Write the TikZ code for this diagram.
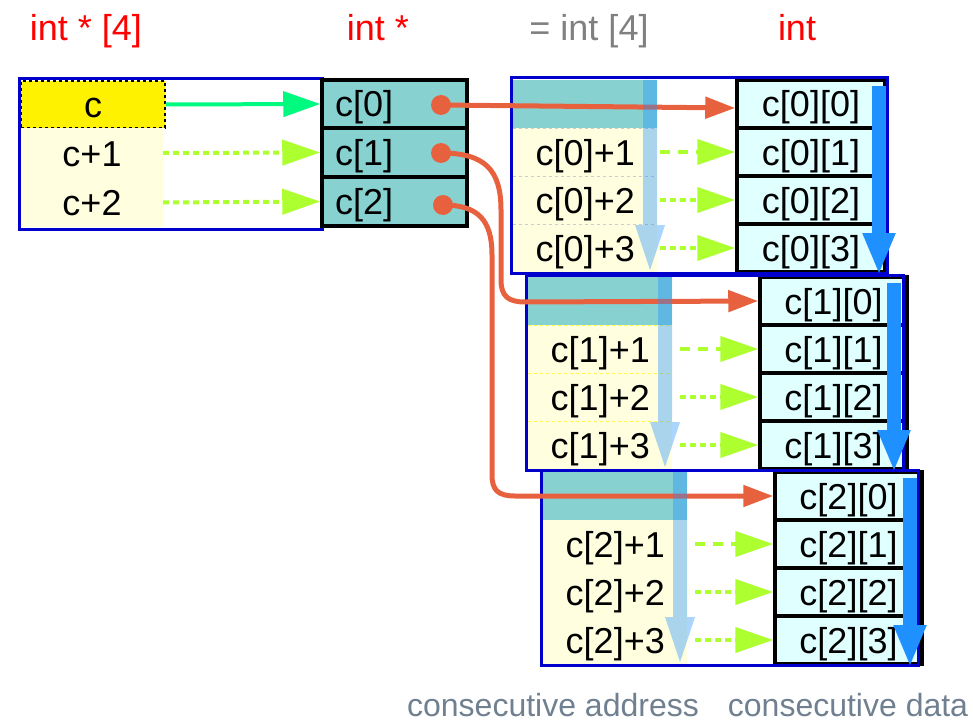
\documentclass[tikz,border=0pt]{standalone}
\usepackage{fontspec}
\setmainfont{Liberation Sans}
\usetikzlibrary{arrows.meta}
\definecolor{teal0}{RGB}{136,209,209}
\definecolor{lyel}{RGB}{255,255,224}
\definecolor{lcyan}{RGB}{224,255,255}
\definecolor{bblue}{RGB}{0,0,204}
\definecolor{orng}{RGB}{232,97,62}
\definecolor{sgreen}{RGB}{0,250,127}
\definecolor{ygreen}{RGB}{173,255,47}
\definecolor{dblue}{RGB}{30,144,255}
\definecolor{slate}{RGB}{112,128,144}
\definecolor{gtext}{RGB}{128,128,128}
\begin{document}
\begin{tikzpicture}[x=1pt,y=-1pt,
  txt/.style={font=\fontsize{36}{40}\selectfont, text height=26pt, text depth=0pt, inner sep=0pt},
  box/.style={inner sep=0pt},
  ttl/.style={font=\fontsize{36}{40}\selectfont, inner sep=0pt, anchor=base},
  foot/.style={font=\fontsize{32}{36}\selectfont, text=slate, inner sep=0pt, anchor=base},
  mcell/.style={box, fill=teal0, draw=black, line width=3.5pt, minimum width=145pt},
  rcell/.style={txt, fill=lcyan, draw=black, line width=3.5pt, minimum height=48pt},
  frame/.style={bblue, line width=3pt},
  oline/.style={orng, line width=5pt, -{Triangle[length=30pt,width=21pt]}},
  gsolid/.style={sgreen, line width=4pt, -{Triangle[length=37pt,width=25pt]}},
  gdot/.style={ygreen, line width=4pt, dash pattern=on 6pt off 4pt, -{Triangle[length=38pt,width=25pt]}},
  gdash/.style={ygreen, line width=4pt, dash pattern=on 10pt off 8pt, -{Triangle[length=38pt,width=25pt]}},
  lbar/.style={fill=dblue, fill opacity=0.38},
  dbar/.style={dblue, line width=14pt, -{Triangle[length=42pt,width=30pt]}}
]
\useasboundingbox (0,0) rectangle (973,722);

% titles
\node[ttl, text=red] (t1) at (86,41) {int * [4]};
\node[ttl, text=red] (t2) at (378,41) {int *};
\node[ttl, text=gtext] (t3) at (589,41) {= int [4]};
\node[ttl, text=red] (t4) at (797,41) {int};

% left box
\node[txt, fill=yellow, draw=black, dashed, line width=1.2pt, minimum width=144pt, minimum height=47pt] (p0) at (93,104.5) {c};
\node[txt, fill=lyel, minimum width=142pt, minimum height=49pt] (p1) at (92,153) {c+1};
\node[txt, fill=lyel, minimum width=142pt, minimum height=49pt] (p2) at (92,202.5) {c+2};
\draw[frame] (19,79) rectangle (322,229);

% middle cells
\node[mcell, minimum height=48pt] (m0) at (394.5,104) {};
\node[mcell, minimum height=49pt] (m1) at (394.5,152.5) {};
\node[mcell, minimum height=49pt] (m2) at (394.5,201.5) {};
\node[txt, anchor=base west] (mt0) at (335,117) {c[0]};
\node[txt, anchor=base west] (mt1) at (335,165.5) {c[1]};
\node[txt, anchor=base west] (mt2) at (335,214.5) {c[2]};
\coordinate (d0) at (441,105);
\coordinate (d1) at (441,153);
\coordinate (d2) at (443,205);

% blocks
\foreach \k/\T/\BL/\BR/\bar/\RL/\RR/\sep in {0/78/511/887/650/737/885/gray!40, 1/275/526/903/665/760/907/yellow!70, 2/470/541/918/680/775/922/lyel}{
  \pgfmathsetmacro\LL{\BL+2}
  \pgfmathsetmacro\LR{\bar+7}
  \pgfmathsetmacro\LW{\LR-\LL}
  \pgfmathsetmacro\LC{(\LR+\LL)/2}
  \pgfmathsetmacro\RW{\RR-\RL}
  \pgfmathsetmacro\RC{(\RR+\RL)/2}
  \foreach \r in {0,...,3}{
    \pgfmathsetmacro\yc{\T+26+48*\r}
    \ifnum\r=0 \def\fc{teal0}\else\def\fc{lyel}\fi
    \node[box, fill=\fc, minimum width=\LW pt, minimum height=48pt] (A\k-\r) at (\LC,\yc) {};
    \ifnum\r>0
      \node[txt, anchor=base east] (At\k-\r) at (\LR-22,\yc+13) {c[\k]+\r};
    \fi
  }
  \draw[\sep, dashed, line width=0.8pt] (\LL,\T+50) -- (\LR,\T+50);
  \draw[\sep, dashed, line width=0.8pt] (\LL,\T+98) -- (\LR,\T+98);
  \draw[\sep, dashed, line width=0.8pt] (\LL,\T+146) -- (\LR,\T+146);
  \foreach \r in {0,...,3}{
    \pgfmathsetmacro\yc{\T+26+48*\r}
    \node[rcell, minimum width=\RW pt] (R\k-\r) at (\RC,\yc) {c[\k][\r]};
  }
  \draw[frame] (\BL,\T) rectangle (\BR,\T+195);
}

% orange pointers
\draw[oline] (d0) -- ([yshift=-4pt]R0-0.west);
\draw[oline] (d1) .. controls (485,153) and (501,170) .. (501,210) -- (501,280)
  .. controls (501,296) and (508,302) .. (525,302) -- (R1-0.west);
\draw[oline] (d2) .. controls (478,205) and (492,220) .. (492,255) -- (492,475)
  .. controls (492,490) and (498,496) .. (515,496) -- (R2-0.west);
\fill[orng] (d0) circle[radius=10pt];
\fill[orng] (d1) circle[radius=10pt];
\fill[orng] (d2) circle[radius=10pt];

% left arrows
\draw[gsolid] (p0.east) -- (m0.west);
\draw[gdot] (p1.east) -- (m1.west);
\draw[gdot] (p2.east) -- (m2.west);

% block arrows
\foreach \k/\T/\bar/\db/\gs in {0/78/650/879/660, 1/275/665/894/680, 2/470/680/910/695}{
  \fill[lbar] (\bar-7,\T+2) -- (\bar+7,\T+2) -- (\bar+7,\T+147) -- (\bar+15,\T+147)
    -- (\bar,\T+192) -- (\bar-15,\T+147) -- (\bar-7,\T+147) -- cycle;
  \foreach \r in {1,2,3}{
    \pgfmathsetmacro\yc{\T+26+48*\r}
    \coordinate (g\k-\r) at (\gs,\yc);
  }
  \draw[gdash] (g\k-1) -- (R\k-1.west);
  \draw[gdot] (g\k-2) -- (R\k-2.west);
  \draw[gdot] (g\k-3) -- (R\k-3.west);
  \coordinate (s\k) at (\db,\T+8);
  \coordinate (e\k) at (\db,\T+197);
  \draw[dbar] (s\k) -- (e\k);
}

% footer
\node[foot] (f1) at (553,716) {consecutive address};
\node[foot] (f2) at (848,716) {consecutive data};
\end{tikzpicture}
\end{document}
